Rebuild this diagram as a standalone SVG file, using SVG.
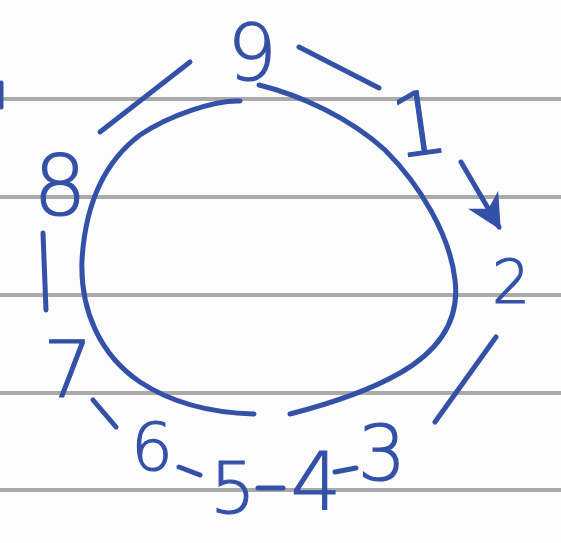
<svg xmlns="http://www.w3.org/2000/svg" width="561" height="543" viewBox="0 0 561 543">
<style>
.rule{stroke:#aaaaaa;stroke-width:4;fill:none}
.ink{stroke:#3451a8;stroke-width:5;fill:none;stroke-linecap:round;stroke-linejoin:round}
.num{font-family:"DejaVu Sans","Liberation Sans",sans-serif;font-weight:200;fill:#3451a8;stroke:#3451a8;stroke-width:1.2;text-anchor:middle}
</style>
<defs>
<marker id="ah" viewBox="0 0 10 10" refX="9" refY="5" markerWidth="7" markerHeight="7" orient="auto" markerUnits="strokeWidth">
<path d="M0,0 L10,5 L0,10 L3,5 Z" fill="#3451a8"/>
</marker>
</defs>
<rect width="561" height="543" fill="#fcfcfc"/>
<g id="paper">
<line class="rule" x1="0" y1="99" x2="561" y2="99"/>
<line class="rule" x1="0" y1="197" x2="561" y2="197"/>
<line class="rule" x1="0" y1="295" x2="561" y2="295"/>
<line class="rule" x1="0" y1="393" x2="561" y2="393"/>
<line class="rule" x1="0" y1="490" x2="561" y2="490"/>
</g>
<g id="connectors">
<path class="ink" d="M259,85 C300,95 350,118 385,150 C420,185 450,235 455,280 C460,320 440,350 400,373 C365,393 325,405 290,414"/>
<path class="ink" d="M240,101 C215,100 170,115 140,135 C100,165 85,210 82,260 C80,310 100,355 140,382 C175,405 215,413 254,414"/>
<line class="ink" x1="190" y1="62" x2="100" y2="132"/>
<line class="ink" x1="299" y1="47" x2="379" y2="88"/>
<line class="ink" x1="461" y1="162" x2="499" y2="227" marker-end="url(#ah)"/>
<line class="ink" x1="496" y1="337" x2="435" y2="422"/>
<line class="ink" x1="93" y1="400" x2="116" y2="427"/>
<line class="ink" x1="43" y1="233" x2="46" y2="310"/>
<line class="ink" x1="179" y1="467" x2="200" y2="475"/>
<line class="ink" x1="258" y1="488" x2="283" y2="488"/>
<line class="ink" x1="335" y1="472" x2="356" y2="468"/>
<line class="ink" x1="1" y1="83" x2="1" y2="107"/>
</g>
<g id="n9"><text class="num" x="252" y="80" font-size="78">9</text></g>
<g id="n1"><text class="num" x="419" y="155" font-size="88" transform="rotate(-8 419 122)">1</text></g>
<g id="n2"><text class="num" x="511" y="303" font-size="60">2</text></g>
<g id="n3"><text class="num" x="382" y="480" font-size="76">3</text></g>
<g id="n4"><text class="num" x="316" y="510" font-size="80">4</text></g>
<g id="n5"><text class="num" x="233" y="513" font-size="72">5</text></g>
<g id="n6"><text class="num" x="152" y="470" font-size="66">6</text></g>
<g id="n7"><text class="num" x="68" y="397" font-size="78">7</text></g>
<g id="n8"><text class="num" x="60" y="215" font-size="84">8</text></g>
</svg>
